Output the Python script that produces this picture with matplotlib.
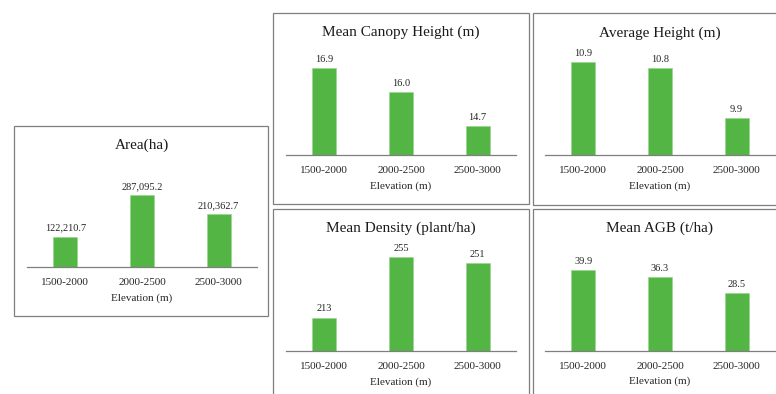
import matplotlib.pyplot as plt
from matplotlib.patches import Rectangle

# elevation classes and the statistics for each class
elevation = ["1500-2000", "2000-2500", "2500-3000"]
area_ha = [122210.7, 287095.2, 210362.7]
canopy_height = [16.9, 16.0, 14.7]
avg_height = [10.9, 10.8, 9.9]
density = [213, 255, 251]
agb = [39.9, 36.3, 28.5]

W, H = 776, 394
BAR = "#53b544"
GRID = "#7f7f7f"
TXT = "#262626"

plt.rcParams["font.family"] = ["Liberation Serif", "DejaVu Serif"]

fig = plt.figure(figsize=(W / 100, H / 100), dpi=100)


def fx(x):
    return x / W


def fy(y):
    return 1 - y / H


# (title, values, label format, frame box l/t/r/b, axis x0/x1, baseline y, y-min, px per unit, title y)
panels = [
    ("Area(ha)", area_ha, "{:,.1f}", (14, 126, 268, 316), (27, 257), 267.3, 0, 0.0002518, 145),
    ("Mean Canopy Height (m)", canopy_height, "{:.1f}", (273, 13, 529, 204), (286, 516), 155, 13.577, 26.1, 32),
    ("Average Height (m)", avg_height, "{:.1f}", (533, 13, 800, 205), (545, 775), 155, 9.227, 55.4, 33),
    ("Mean Density (plant/ha)", density, "{:.0f}", (273, 209, 529, 420), (286, 516), 350.7, 190, 1.443, 228),
    ("Mean AGB (t/ha)", agb, "{:.1f}", (533, 209, 800, 420), (545, 775), 350.5, 0, 2.025, 228),
]

for title, vals, fmt, box, xr, base, lo, scale, ty in panels:
    l, t, r, b = box
    fig.add_artist(Rectangle((fx(l), fy(b)), fx(r) - fx(l), fy(t) - fy(b),
                             transform=fig.transFigure, fill=False,
                             edgecolor=GRID, linewidth=0.9))

    h = 100
    ax = fig.add_axes([fx(xr[0]), fy(base), fx(xr[1]) - fx(xr[0]), h / H])
    ax.set_facecolor("none")
    bars = ax.bar(range(len(vals)), vals, width=0.31, color=BAR,
                  edgecolor="#9bd68e", linewidth=0.5)
    ax.set_xlim(-0.5, len(vals) - 0.5)
    ax.set_ylim(lo, lo + h / scale)

    for s in ["top", "right", "left"]:
        ax.spines[s].set_visible(False)
    ax.spines["bottom"].set_color(GRID)
    ax.spines["bottom"].set_linewidth(0.9)
    ax.set_yticks([])
    ax.set_xticks(range(len(vals)), elevation)
    ax.tick_params(axis="x", length=0, pad=8, labelsize=8, labelcolor=TXT)
    ax.set_xlabel("Elevation (m)", fontsize=8, color=TXT, labelpad=4.5)

    for bar, v in zip(bars, vals):
        ax.annotate(fmt.format(v), (bar.get_x() + bar.get_width() / 2, v),
                    xytext=(0, 3), textcoords="offset points",
                    ha="center", va="bottom", fontsize=7.5, color=TXT)

    fig.text(fx((xr[0] + xr[1]) / 2), fy(ty), title, ha="center", va="center",
             fontsize=11, color="#1a1a1a")

fig.savefig("out.png", dpi=100, facecolor="white")
